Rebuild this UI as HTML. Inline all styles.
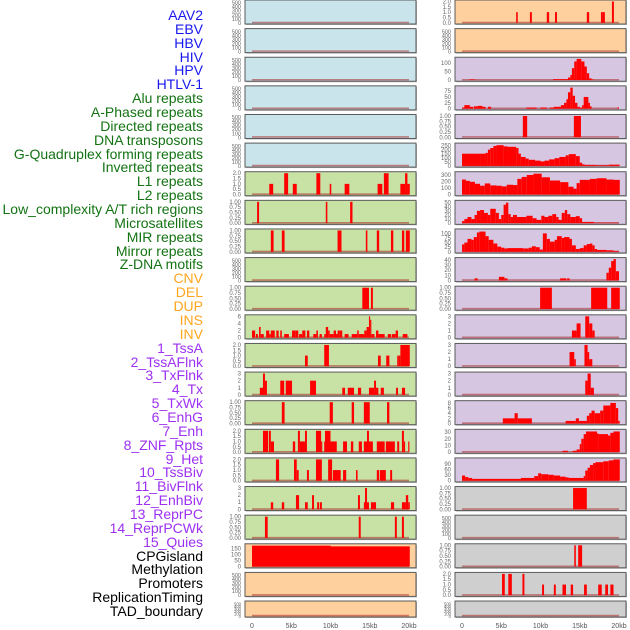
<!DOCTYPE html>
<html><head><meta charset="utf-8">
<style>
html,body{margin:0;padding:0;background:#fff;}
body{width:630px;height:630px;overflow:hidden;position:relative;font-family:"Liberation Sans",sans-serif;}
#labels div{position:absolute;right:427px;font-size:14px;line-height:14px;white-space:nowrap;}
svg{position:absolute;left:0;top:0;}
</style></head>
<body>
<div id="labels"></div>
<svg id="chart" width="630" height="630"></svg>
<script>
// ---- labels ----
const labelNames = ["AAV2","EBV","HBV","HIV","HPV","HTLV-1","Alu repeats","A-Phased repeats","Directed repeats","DNA transposons","G-Quadruplex forming repeats","Inverted repeats","L1 repeats","L2 repeats","Low_complexity A/T rich regions","Microsatellites","MIR repeats","Mirror repeats","Z-DNA motifs","CNV","DEL","DUP","INS","INV","1_TssA","2_TssAFlnk","3_TxFlnk","4_Tx","5_TxWk","6_EnhG","7_Enh","8_ZNF_Rpts","9_Het","10_TssBiv","11_BivFlnk","12_EnhBiv","13_ReprPC","14_ReprPCWk","15_Quies","CPGisland","Methylation","Promoters","ReplicationTiming","TAD_boundary"];
const labelGroups = ["b","b","b","b","b","b","g","g","g","g","g","g","g","g","g","g","g","g","g","o","o","o","o","o","p","p","p","p","p","p","p","p","p","p","p","p","p","p","p","k","k","k","k","k"];
const groupColors = {b:"#1717ee",g:"#137313",o:"#ffa51f",p:"#9d30f2",k:"#000"};

// ---- tick sets ----
const t500 = [0,100,200,300,400,500];
const t2 = [0,0.5,1,1.5,2];
const t1 = [0,0.25,0.5,0.75,1];
const t3 = [0,1,2,3];

// ---- left column data [startKb, endKb, value] ----
const dAlu = [[2.2,2.7,1],[4.1,4.6,2],[5.2,5.7,1],[8.2,8.7,2],[9.9,10.1,1],[11.8,12.4,1],[16.0,16.6,1],[16.8,17.4,2],[18.9,19.5,1],[19.5,19.8,2],[19.8,20.1,1]];
const dAPhased = [[0.65,0.9,1],[9.4,9.6,1],[12.5,12.8,1]];
const dDirected = [[2.4,2.75,1],[3.8,4.15,1],[10.9,11.4,1],[14.5,14.7,1],[15.9,16.2,1],[17.7,18.0,1],[19.1,19.4,1],[19.6,20.1,1]];
const dGQuad = [[14.05,14.9,1],[15.15,15.4,1]];
const dInverted = [[0,0.4,2],[0.5,0.75,1],[0.9,1.1,3],[1.1,1.5,1],[1.8,2.2,2],[2.2,2.4,1],[2.4,2.9,2],[3.1,3.4,2],[3.6,3.8,2],[4.1,4.7,1],[5.1,5.5,2],[5.5,5.9,2],[6.0,6.4,1],[6.4,6.8,2],[7.0,7.3,2],[7.8,8.2,1],[8.2,8.4,2],[8.6,8.9,1],[9.2,9.4,1],[9.4,9.7,3],[9.7,9.9,2],[9.9,10.4,1],[10.4,10.7,2],[10.7,10.9,1],[10.9,11.1,2],[11.1,11.5,2],[11.8,12.3,1],[12.7,13.4,1],[13.4,13.6,2],[13.6,14.3,1],[14.3,14.6,2],[14.6,14.9,3],[14.9,15.05,6],[15.05,15.2,5],[15.2,15.6,1],[15.8,16.1,2],[16.1,16.9,1],[17.3,17.7,1],[17.8,18.3,1],[18.3,18.6,2],[19.2,19.8,1]];
const dL1 = [[6.75,7.1,1],[9.2,9.8,2],[16.05,16.4,1],[17.1,17.5,1],[18.5,18.7,1],[18.7,18.9,1],[18.9,20.1,2]];
const dL2 = [[1.0,1.4,1],[1.4,1.65,3],[1.65,1.9,2],[3.6,4.1,2],[4.3,5.1,2],[7.4,8.15,2],[11.5,11.85,1],[12.2,13.0,1],[13.5,13.9,1],[14.9,15.55,1],[15.55,15.8,2],[15.8,16.1,1],[16.4,16.8,1],[18.35,18.6,1],[19.1,19.5,1]];
const dLowComplex = [[3.8,4.15,1],[9.9,10.3,1],[12.7,13.0,1],[14.25,15.0,1],[17.2,17.5,1]];
const dMicrosat = [[1.4,2.05,2],[2.15,2.4,2],[2.4,2.8,1],[5.2,5.5,1],[5.85,6.1,2],[6.1,6.75,1],[6.75,7.0,2],[8.15,8.8,2],[8.8,8.95,1],[9.2,9.3,1],[9.3,10.0,2],[10.0,10.8,1],[11.6,12.1,1],[12.6,12.9,1],[13.6,14.0,1],[14.25,14.65,1],[14.65,14.9,2],[14.9,15.4,1],[15.9,16.9,1],[17.05,18.2,1],[18.5,18.75,1],[19.1,19.35,2],[19.35,19.5,1],[19.9,20.05,1]];
const dMIR = [[3.05,3.45,2],[5.35,5.7,2],[5.7,5.95,1],[7.0,7.25,1],[8.15,8.9,2],[9.7,10.2,2],[10.3,11.3,1],[11.6,12.0,1],[13.25,13.45,1],[15.9,16.2,1],[16.3,17.05,1],[17.6,17.85,1]];
const dMirror = [[2.4,2.7,1],[3.8,4.1,1],[5.6,6.0,2],[6.75,7.1,1],[7.65,7.9,2],[8.3,8.55,1],[8.65,8.9,1],[13.5,13.75,2],[14.25,14.4,1],[14.4,14.65,3],[14.65,14.9,1],[15.15,15.8,1],[17.7,18.1,1],[19.1,19.6,1],[19.6,19.9,2],[19.9,20.1,1]];
const dZDNA = [[1.65,2.0,1],[13.6,13.85,1],[18.2,18.45,1],[19.1,19.35,1]];
const dCNV = [[0,10,172],[10,20.1,166]];

// ---- right column data ----
const dINS = [[6.9,7.1,1],[8.65,8.9,1],[10.8,11.1,1],[11.85,12.1,1],[15.9,16.2,1],[17.7,17.95,1],[17.95,18.2,1],[19.1,19.35,2]];
const dTssA = [[0.9,1.7,3],[11.6,13.5,5],[13.5,13.8,15],[13.8,14.0,30],[14.0,14.3,70],[14.3,14.6,110],[14.6,15.2,125],[15.2,15.6,110],[15.6,15.9,80],[15.9,16.2,40],[16.2,16.5,10],[16.5,16.8,3]];
const dTssAFlnk = [[0,0.3,5],[0.3,1.0,15],[1.0,1.4,8],[1.5,2.0,10],[2.0,2.6,12],[2.6,3.0,8],[3.3,3.7,8],[8.2,9.5,5],[10.0,10.8,5],[11.2,11.7,5],[11.7,12.6,8],[12.6,13.0,15],[13.0,13.3,25],[13.3,13.5,40],[13.5,13.8,70],[13.8,14.1,90],[14.1,14.4,55],[14.4,14.7,25],[14.7,15.0,8],[15.0,15.3,5],[15.3,15.5,15],[15.5,16.1,50],[16.1,16.3,25],[16.3,16.5,10],[19.8,20.0,5]];
const dTxFlnk = [[7.75,8.3,1],[14.25,15.15,1]];
const dTx = [[0,2.3,150],[2.3,3.0,150],[3.0,3.3,160],[3.3,3.6,200],[3.6,4.0,220],[4.0,4.4,245],[4.4,5.3,255],[5.3,5.8,240],[5.8,6.9,235],[6.9,7.2,220],[7.2,7.5,150],[7.5,8.1,110],[8.1,8.5,90],[8.5,9.3,75],[9.3,10.0,65],[10.0,10.5,55],[10.5,11.1,65],[11.1,11.8,80],[11.8,12.4,95],[12.4,13.2,110],[13.2,13.6,130],[13.6,14.5,145],[14.5,15.0,120],[15.0,15.3,40],[15.3,15.6,20],[15.6,17.0,12],[17.0,18.7,8],[18.7,20.1,15]];
const dTxWk = [[0,0.5,230],[0.5,1.0,210],[1.0,1.65,195],[1.65,2.3,165],[2.3,2.9,135],[2.9,3.6,170],[3.6,4.4,140],[4.4,5.05,135],[5.05,5.7,125],[5.7,6.5,150],[6.5,7.05,145],[7.05,7.6,240],[7.6,8.25,270],[8.25,9.1,300],[9.1,10.15,320],[10.15,11.2,265],[11.2,12.5,215],[12.5,13.55,190],[13.55,14.2,120],[14.2,14.6,90],[14.6,15.0,175],[15.0,16.3,225],[16.3,17.15,240],[17.15,18.4,250],[18.4,19.3,230],[19.3,20.1,225]];
const dEnhG = [[0,0.3,5],[0.3,0.7,10],[0.7,1.2,15],[1.2,1.6,10],[1.6,1.9,20],[1.9,2.3,30],[2.3,2.8,32],[2.8,3.3,25],[3.3,3.6,20],[3.6,4.3,35],[4.3,4.7,25],[4.7,5.0,10],[5.0,5.3,20],[5.3,5.6,45],[5.6,5.9,50],[5.9,6.2,22],[6.2,6.5,15],[6.5,7.0,20],[7.0,8.2,15],[8.2,9.0,18],[9.0,9.5,12],[9.5,10.1,8],[10.1,10.5,18],[10.5,11.0,15],[11.0,11.5,18],[11.5,12.0,22],[12.0,12.3,15],[12.3,12.7,8],[12.7,13.1,25],[13.1,13.4,32],[13.4,13.8,22],[13.8,14.5,15],[14.5,15.0,17],[15.0,15.3,12],[15.3,16.8,3],[16.8,20,1]];
const dEnh = [[0,0.3,40],[0.3,0.7,50],[0.7,1.2,70],[1.2,1.5,65],[1.5,1.9,80],[1.9,2.2,105],[2.2,3.0,110],[3.0,3.4,85],[3.4,4.0,65],[4.0,4.5,45],[4.5,5.0,28],[5.0,5.4,22],[5.4,5.8,18],[5.8,7.8,20],[7.8,8.5,18],[8.5,8.9,22],[8.9,9.4,30],[9.4,9.9,25],[9.9,10.3,12],[10.3,10.8,100],[10.8,11.2,70],[11.2,11.8,55],[11.8,12.1,65],[12.1,12.7,85],[12.7,13.0,75],[13.0,13.7,80],[13.7,14.0,70],[14.0,14.5,35],[14.5,15.0,15],[15.0,15.5,20],[15.5,15.9,35],[15.9,16.3,42],[16.3,16.6,45],[16.6,16.9,35],[16.9,17.2,15],[17.2,18.4,10],[18.4,19.3,8],[19.3,20,4]];
const dZNF = [[1.6,2.0,4],[4.7,5.4,7],[5.4,5.8,4],[12.5,13.3,4],[13.4,13.7,4],[18.4,18.7,15],[18.7,19.0,25],[19.0,19.3,38],[19.3,19.6,42],[19.6,20,18]];
const dHet = [[9.95,11.45,1],[16.45,18.5,1],[19.0,20.1,1]];
const dTssBiv = [[14.0,14.6,1],[14.6,15.1,2],[15.7,16.2,3],[16.2,16.6,2],[16.6,16.9,1]];
const dBivFlnk = [[13.7,14.3,2],[14.3,14.5,1],[15.6,16.0,3],[16.0,16.2,2],[16.2,16.6,1]];
const dEnhBiv = [[15.7,16.0,2],[16.0,16.4,3],[16.4,16.8,1]];
const dReprPC = [[5.2,6.7,2],[6.7,7.1,4],[7.1,8.9,2],[13.2,14.5,1],[14.5,14.9,2],[14.9,15.9,1],[15.9,16.2,3],[16.2,16.5,4],[16.5,16.9,5],[16.9,17.6,4],[17.6,18.0,5],[18.0,18.9,7],[18.9,19.6,8],[19.6,19.9,6],[19.9,20.1,1]];
const dReprPCWk = [[12.8,13.5,2],[14.1,14.6,2],[14.6,15.0,4],[15.0,15.2,12],[15.2,15.5,20],[15.5,15.8,27],[15.8,17.2,31],[17.2,17.4,28],[17.4,18.6,27],[18.6,18.9,25],[18.9,19.3,29],[19.3,20.1,31]];
const dQuies = [[0,0.4,28],[0.4,0.8,20],[0.8,1.3,15],[1.3,7.5,10],[7.5,9.2,15],[9.2,9.7,25],[9.7,10.1,40],[10.1,11.0,35],[11.0,11.7,32],[11.7,12.5,28],[12.5,13.2,22],[13.2,13.6,18],[13.6,15.5,15],[15.5,15.7,25],[15.7,16.0,55],[16.0,16.3,70],[16.3,16.7,85],[16.7,17.0,95],[17.0,18.0,100],[18.0,18.7,105],[18.7,19.3,110],[19.3,20.1,115]];
const dCPG = [[14.15,15.9,1]];
const dPromoters = [[14.3,14.5,1],[14.8,15.3,1]];
const dRepTiming = [[5.1,5.45,2],[5.9,6.35,2],[7.7,7.95,2],[10.2,10.45,1],[11.7,11.95,1],[12.8,13.25,1],[13.85,14.15,1],[15.55,15.9,1],[17.35,17.8,1],[18.25,18.6,1],[18.9,19.3,1]];

const xTickKb = [0,5,10,15,20];
const xTickLabels = ["0","5kb","10kb","15kb","20kb"];

// panel specs: [name, bg, yMax, ticks, data]
const BL="#c9e4eb", GR="#c8e1a5", OR="#fed09e", PU="#d6c6e1", GY="#cfcfcf";
const leftPanels = [
 ["aav2",BL,530,t500,[]],["ebv",BL,530,t500,[]],["hbv",BL,530,t500,[]],["hiv",BL,530,t500,[]],["hpv",BL,530,t500,[]],["htlv-1",BL,530,t500,[]],
 ["alu-repeats",GR,2,t2,dAlu],["a-phased-repeats",GR,1,t1,dAPhased],["directed-repeats",GR,1,t1,dDirected],["dna-transposons",GR,530,t500,[]],
 ["g-quadruplex",GR,1,t1,dGQuad],["inverted-repeats",GR,6,[0,2,4,6],dInverted],["l1-repeats",GR,2,t2,dL1],["l2-repeats",GR,3,t3,dL2],
 ["low-complexity",GR,1,t1,dLowComplex],["microsatellites",GR,2,t2,dMicrosat],["mir-repeats",GR,2,t2,dMIR],["mirror-repeats",GR,3,t3,dMirror],
 ["z-dna-motifs",GR,1,t1,dZDNA],["cnv",OR,175,[0,50,100,150],dCNV],["del",OR,530,t500,[]],["dup",OR,530,t500,[]]
];
const rightPanels = [
 ["ins",OR,2,t2,dINS],["inv",OR,530,t500,[]],["1-tssa",PU,126,[0,50,100],dTssA],["2-tssaflnk",PU,91,[0,25,50,75],dTssAFlnk],
 ["3-txflnk",PU,1,t1,dTxFlnk],["4-tx",PU,262,[0,50,100,150,200,250],dTx],["5-txwk",PU,327,[0,100,200,300],dTxWk],
 ["6-enhg",PU,52,[0,10,20,30,40,50],dEnhG],["7-enh",PU,116,[0,25,50,75,100],dEnh],["8-znf-rpts",PU,42,[0,10,20,30,40],dZNF],
 ["9-het",PU,1,t1,dHet],["10-tssbiv",PU,3,t3,dTssBiv],["11-bivflnk",PU,3,t3,dBivFlnk],["12-enhbiv",PU,3,t3,dEnhBiv],
 ["13-reprpc",PU,8.3,[0,2,4,6,8],dReprPC],["14-reprpcwk",PU,32,[0,10,20,30],dReprPCWk],["15-quies",PU,115,[0,30,60,90],dQuies],
 ["cpgisland",GY,1,t1,dCPG],["methylation",GY,530,t500,[]],["promoters",GY,1,t1,dPromoters],["replication-timing",GY,2,t2,dRepTiming],["tad-boundary",GY,530,t500,[]]
];

const NS="http://www.w3.org/2000/svg";
const svg=document.getElementById("chart");
function mk(tag,attrs,parent){const e=document.createElementNS(NS,tag);for(const k in attrs)e.setAttribute(k,attrs[k]);(parent||svg).appendChild(e);return e;}

// labels
const lab=document.getElementById("labels");
labelNames.forEach((n,i)=>{
  const d=document.createElement("div");
  d.textContent=n;
  d.style.top=(8+i*13.86)+"px";
  d.style.color=groupColors[labelGroups[i]];
  
  
  lab.appendChild(d);
});

function fmt(v,ticks){
  const max=ticks[ticks.length-1];
  if(ticks.includes(0.25))return v.toFixed(2);
  if(ticks.includes(0.5))return v.toFixed(1);
  return String(v);
}

function drawColumn(panels,offX){
  const px0=245+offX, px1=416+offX, kb0=252+offX, kb20=409+offX;
  const xs=kb=>kb0+(kb/20)*(kb20-kb0);
  panels.forEach((p,i)=>{
    const [name,bg,ymax,ticks,data]=p;
    const top=i*28.62, h=(i===21)?16:24;
    const g=mk("g",{});
    
    
    mk("rect",{x:px0+1,y:top+1,width:px1-px0,height:h,fill:"#bbb"},g);
    const bgR=mk("rect",{x:px0,y:top,width:px1-px0,height:h,fill:bg,stroke:"#5a5a5a","stroke-width":1},g);
    const yb=top+h-1.2, yt=top+1.5;
    const ys=v=>yb-(v/ymax)*(yb-yt);
    // baseline
    mk("line",{x1:xs(0),x2:xs(20),y1:yb-0.3,y2:yb-0.3,stroke:"rgba(170,40,40,0.55)","stroke-width":1.6},g);
    data.forEach(d=>{
      const r=mk("rect",{x:xs(d[0]),y:ys(d[2]),width:Math.max(0.8,xs(d[1])-xs(d[0])),height:yb-ys(d[2]),fill:"#ff0000"},g);
      
      
    });
    // y ticks
    const fs=(ticks===t500)?(h<20?4.2:5.5):6;
    ticks.forEach(t=>{
      const tx=mk("text",{x:px0-4,y:ys(t)+2,"font-size":fs,fill:"#666","text-anchor":"end","font-family":"Liberation Sans, sans-serif"},g);
      tx.textContent=fmt(t,ticks);
      
      
    });
  });
  xTickKb.forEach((k,j)=>{
    const t=mk("text",{x:xs(k),y:628,"font-size":7,fill:"#555","text-anchor":"middle","font-family":"Liberation Sans, sans-serif"});
    t.textContent=xTickLabels[j];
    
    
  });
}
drawColumn(leftPanels,0);
drawColumn(rightPanels,210);
</script>
</body></html>
